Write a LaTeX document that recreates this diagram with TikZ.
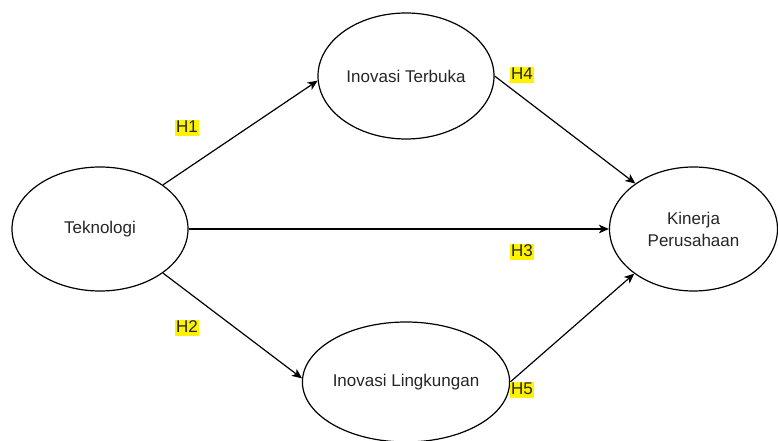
\documentclass[tikz,border=0pt]{standalone}
\usepackage{fontspec}
\setmainfont{Liberation Sans}
\usetikzlibrary{shapes.geometric,arrows.meta}
\begin{document}
\begin{tikzpicture}[x=0.75pt,y=-0.75pt,
  every node/.style={font=\fontsize{12.75}{16.5}\selectfont, text=black!85},
  oval/.style={ellipse, draw=black, line width=0.9pt, fill=white, inner sep=0pt, align=center},
  conn/.style={draw=black, line width=0.9pt, -{Stealth[length=7.5pt,width=6.5pt,inset=2pt]}},
  hyp/.style={fill=yellow, inner xsep=0.6pt, inner ysep=0.3pt, text height=0.9em, text depth=0.22em}]
\useasboundingbox (0,0) rectangle (778,441);
\node[oval, minimum width=132pt, minimum height=93pt] (tek) at (100,229) {Teknologi};
\node[oval, minimum width=132pt, minimum height=94.5pt] (terb) at (406,76) {Inovasi Terbuka};
\node[oval, minimum width=133.5pt, minimum height=90pt] (ling) at (406,382) {Inovasi Lingkungan};
\node[oval, minimum width=126pt, minimum height=93pt] (kin) at (693.5,229) {Kinerja\\Perusahaan};
\draw[conn] (tek.35.4) -- (terb.183);
\draw[conn] (tek.-35.4) -- (ling.178);
\draw[conn] (tek.east) -- (kin.west);
\draw[conn] (terb.east) -- (kin.142.8);
\draw[conn] (ling.east) -- (kin.217.2);
\node[hyp] (h1) at (187,128) {H1};
\node[hyp] (h2) at (187,328) {H2};
\node[hyp] (h3) at (522,252) {H3};
\node[hyp] (h4) at (522,75) {H4};
\node[hyp] (h5) at (522,390) {H5};
\end{tikzpicture}
\end{document}
